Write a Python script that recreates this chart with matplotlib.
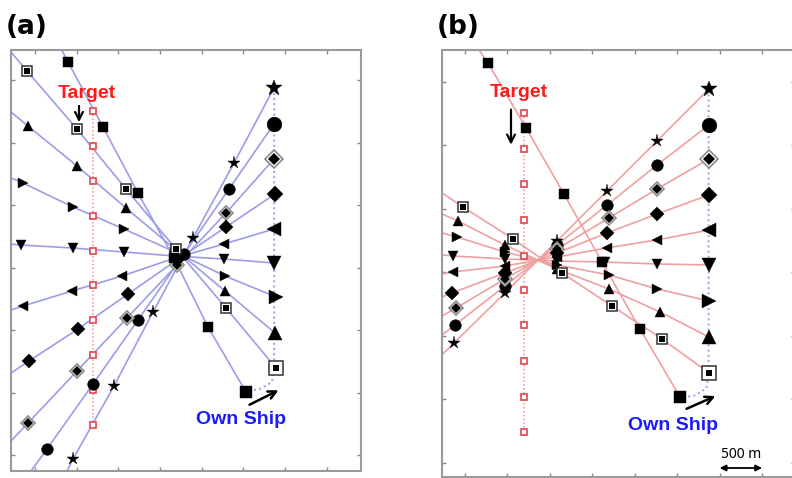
import matplotlib
matplotlib.use("Agg")
import matplotlib.pyplot as plt

# ---------------------------------------------------------------
# Shared scenario (metres): own ship heading north, target heading south
# ---------------------------------------------------------------
own_path_x = [2870, 2870, 2844, 2700, 2530]
own_path_y = [2940, 700, 584, 528, 510]

target_x = [700, 700, 700, 700, 700, 700, 700, 700, 700, 700]
target_y = [2750, 2470, 2190, 1910, 1630, 1360, 1080, 800, 520, 240]

# ---------------------------------------------------------------
# (a) predicted relative tracks, one per own-ship update
# ---------------------------------------------------------------
a_star_x = [2868, 2388, 1896, 1416, 948, 456]
a_star_y = [2936, 2336, 1736, 1144, 552, -32]
a_circle_x = [2868, 2328, 1788, 1236, 696, 144]
a_circle_y = [2648, 2128, 1608, 1080, 568, 48]
a_dmdo_x = [2868, 2292, 1704, 1104, 504, -84]
a_dmdo_y = [2368, 1936, 1520, 1096, 672, 256]
a_dmd_x = [2880, 2292, 1704, 1116, 516, -72]
a_dmd_y = [2088, 1824, 1560, 1288, 1008, 752]
a_left_x = [2868, 2268, 1680, 1044, 444, -144]
a_left_y = [1808, 1688, 1576, 1432, 1312, 1192]
a_down_x = [2868, 2268, 1668, 1068, 456, -168]
a_down_y = [1536, 1568, 1592, 1624, 1656, 1680]
a_right_x = [2892, 2280, 1680, 1068, 456, -144]
a_right_y = [1264, 1432, 1624, 1808, 1984, 2176]
a_up_x = [2880, 2280, 1692, 1092, 504, -84]
a_up_y = [976, 1312, 1640, 1976, 2312, 2632]
a_framed_x = [2892, 2292, 1692, 1092, 504, -96]
a_framed_y = [696, 1176, 1648, 2128, 2608, 3072]
a_square_x = [2532, 2076, 1668, 1236, 816, 396]
a_square_y = [504, 1024, 1576, 2096, 2624, 3144]
# where each track leaves the plotting area
a_end_x = [384, -48, -288, -288, -288, -288, -288, -288, -288, 312]
a_end_y = [-128, -128, 112, 656, 1160, 1688, 2216, 2744, 3224, 3250]

# ---------------------------------------------------------------
# (b) predicted relative tracks
# ---------------------------------------------------------------
b_star_x = [2874, 2262, 1673, 1084, 471, -130]
b_star_y = [2941, 2532, 2138, 1745, 1336, 942]
b_circle_x = [2874, 2262, 1673, 1084, 471, -118]
b_circle_y = [2658, 2343, 2028, 1713, 1391, 1084]
b_dmdo_x = [2874, 2262, 1696, 1084, 471, -106]
b_dmdo_y = [2390, 2154, 1926, 1682, 1446, 1217]
b_dmd_x = [2874, 2262, 1673, 1084, 471, -153]
b_dmd_y = [2107, 1957, 1808, 1650, 1493, 1336]
b_left_x = [2874, 2262, 1673, 1084, 471, -141]
b_left_y = [1831, 1753, 1690, 1619, 1548, 1501]
b_down_x = [2874, 2262, 1649, 1084, 471, -141]
b_down_y = [1556, 1564, 1579, 1587, 1603, 1627]
b_right_x = [2874, 2262, 1696, 1084, 471, -94]
b_right_y = [1273, 1367, 1477, 1556, 1658, 1776]
b_up_x = [2874, 2297, 1696, 1084, 471, -82]
b_up_y = [989, 1186, 1367, 1524, 1713, 1902]
b_framed_x = [2874, 2321, 1732, 1143, 565, -24]
b_framed_y = [706, 974, 1233, 1493, 1761, 2012]
b_square_x = [2533, 2062, 1614, 1166, 719, 271]
b_square_y = [517, 1052, 1579, 2115, 2634, 3146]
b_end_x = [-271, -271, -271, -271, -271, -271, -271, -271, -271, 153]
b_end_y = [848, 1005, 1155, 1304, 1485, 1635, 1808, 1957, 2123, 3260]

kinds = ["star", "circle", "dmdo", "dmd", "left", "down", "right", "up", "framed", "square"]

a_tracks = [(a_star_x, a_star_y), (a_circle_x, a_circle_y), (a_dmdo_x, a_dmdo_y),
            (a_dmd_x, a_dmd_y), (a_left_x, a_left_y), (a_down_x, a_down_y),
            (a_right_x, a_right_y), (a_up_x, a_up_y), (a_framed_x, a_framed_y),
            (a_square_x, a_square_y)]
b_tracks = [(b_star_x, b_star_y), (b_circle_x, b_circle_y), (b_dmdo_x, b_dmdo_y),
            (b_dmd_x, b_dmd_y), (b_left_x, b_left_y), (b_down_x, b_down_y),
            (b_right_x, b_right_y), (b_up_x, b_up_y), (b_framed_x, b_framed_y),
            (b_square_x, b_square_y)]

TICKS = [0, 500, 1000, 1500, 2000, 2500, 3000, 3500]
YTICKS = [0, 500, 1000, 1500, 2000, 2500, 3000]

simple = {"star": "*", "circle": "o", "dmd": "D", "left": "<",
          "down": "v", "right": ">", "up": "^", "square": "s"}
scale = {"star": 1.25, "circle": 1.12, "dmd": 0.9, "left": 1.0,
         "down": 1.0, "right": 1.0, "up": 1.0, "square": 0.95}


def draw_marker(ax, kind, x, y, size):
    if kind == "framed":
        ax.plot(x, y, "s", ms=size * 1.05, mfc="white", mec="#333333", mew=1.1, zorder=6)
        ax.plot(x, y, "s", ms=size * 0.5, mfc="black", mec="black", mew=0, zorder=7)
    elif kind == "dmdo":
        ax.plot(x, y, "D", ms=size * 0.92, mfc="white", mec="#8a8a8a", mew=1.2, zorder=6)
        ax.plot(x, y, "D", ms=size * 0.66, mfc="black", mec="black", mew=0, zorder=7)
    else:
        ax.plot(x, y, simple[kind], ms=size * scale[kind], mfc="black",
                mec="black", mew=0.3, zorder=6)


def draw_panel(ax, tracks, end_x, end_y, line_color, xlim, ylim):
    for (xs, ys), ex, ey in zip(tracks, end_x, end_y):
        ax.plot(xs + [ex], ys + [ey], color=line_color, lw=1.2, zorder=2)
    ax.plot(target_x, target_y, ls=(0, (1, 1.5)), color="#f09090", lw=1.1, zorder=3)
    ax.plot(target_x, target_y, "s", ms=5, mfc="white", mec="#e8505a", mew=1.3,
            ls="none", zorder=4)
    ax.plot(own_path_x, own_path_y, ls=(0, (1, 1.5)), color="#a4a4f2", lw=1.5, zorder=3)
    for kind, (xs, ys) in zip(kinds, tracks):
        for i, (x, y) in enumerate(zip(xs, ys)):
            draw_marker(ax, kind, x, y, 9.5 if i == 0 else 7.5)
    ax.set_xlim(*xlim)
    ax.set_ylim(*ylim)
    ax.set_xticks(TICKS)
    ax.set_yticks(YTICKS)
    ax.tick_params(direction="in", length=3, width=1, color="#888888",
                   top=True, right=True, labelbottom=False, labelleft=False)
    for s in ax.spines.values():
        s.set_color("#9a9a9a")
        s.set_linewidth(1.5)


fig = plt.figure(figsize=(7.92, 4.78), dpi=100)
ax_a = fig.add_axes([11 / 792, 1 - 471 / 478, 350 / 792, 421.5 / 478])
ax_b = fig.add_axes([442 / 792, 1 - 477 / 478, 352.5 / 792, 427.5 / 478])

draw_panel(ax_a, a_tracks, a_end_x, a_end_y, "#9c9ce8", (-288, 3912), (-128, 3244))
draw_panel(ax_b, b_tracks, b_end_x, b_end_y, "#efa0a0", (-271, 3882), (-113, 3252))

label_font = dict(family=["Liberation Sans", "DejaVu Sans"], fontweight="bold", fontsize=14)

# (a) annotations
ax_a.text(624, 2896, "Target", color="#ff1a1a", ha="center", va="center", **label_font)
ax_a.annotate("", xy=(528, 2640), xytext=(528, 2815),
              arrowprops=dict(arrowstyle="->", lw=1.6, color="black", mutation_scale=14))
ax_a.text(2472, 280, "Own Ship", color="#1a1aff", ha="center", va="center", **label_font)
ax_a.annotate("", xy=(2952, 528), xytext=(2544, 392),
              arrowprops=dict(arrowstyle="->", lw=1.8, color="black", mutation_scale=14))

# (b) annotations
ax_b.text(636, 2910, "Target", color="#ff1a1a", ha="center", va="center", **label_font)
ax_b.annotate("", xy=(542, 2480), xytext=(542, 2800),
              arrowprops=dict(arrowstyle="->", lw=1.6, color="black", mutation_scale=14))
ax_b.text(2450, 289, "Own Ship", color="#1a1aff", ha="center", va="center", **label_font)
ax_b.annotate("", xy=(2980, 533), xytext=(2580, 415),
              arrowprops=dict(arrowstyle="->", lw=1.8, color="black", mutation_scale=14))

# scale bar
ax_b.annotate("", xy=(3500, -42), xytext=(3000, -42),
              arrowprops=dict(arrowstyle="<|-|>", lw=1.3, color="black", mutation_scale=9,
                              shrinkA=0, shrinkB=0))
ax_b.text(3250, 68, "500 m", ha="center", va="center", fontsize=10,
          family=["Noto Sans", "DejaVu Sans"])

fig.text(27 / 792, 1 - 27 / 478, "(a)", ha="center", va="center", fontsize=19,
         fontweight="bold", family=["DejaVu Sans"])
fig.text(458 / 792, 1 - 27 / 478, "(b)", ha="center", va="center", fontsize=19,
         fontweight="bold", family=["DejaVu Sans"])

fig.savefig("out.png", dpi=100)
